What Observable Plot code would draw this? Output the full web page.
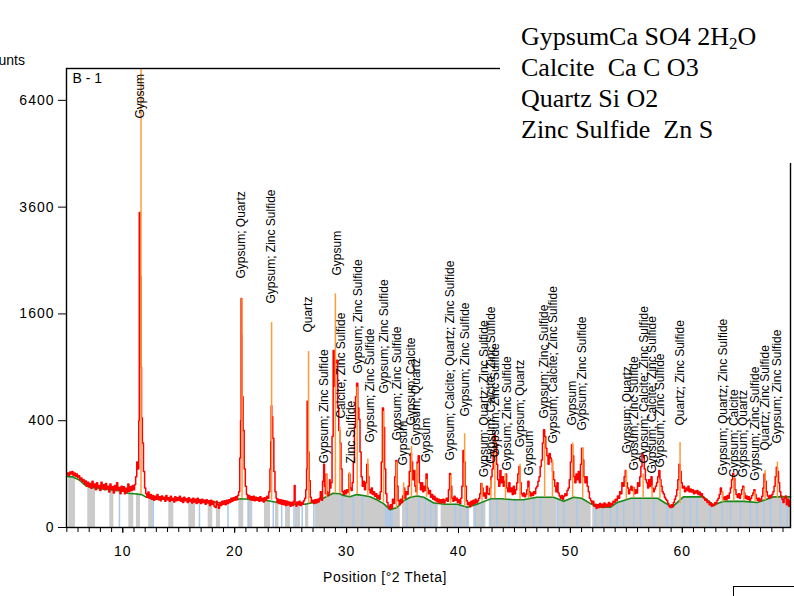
<!DOCTYPE html>
<html>
<head>
<meta charset="utf-8">
<script src="https://cdn.jsdelivr.net/npm/d3@7"></script>
<script src="https://cdn.jsdelivr.net/npm/@observablehq/plot@0.6"></script>
<style>
  body { margin: 0; background: #fff; }
  #wrap { position: relative; width: 794px; height: 596px; overflow: hidden; font-family: "Liberation Sans", Arial, sans-serif; }
  #wrap svg { position: absolute; left: 0; top: 0; }
</style>
</head>
<body>
<div id="wrap"></div>
<script>
// ---------- data ----------
const xDomain = [4.97, 69.67];
const yMax = 7390;
const yTicks = [0, 400, 1600, 3600, 6400];
const xTicks = [10, 20, 30, 40, 50, 60];
const xMinorTicks = [5,6,7,8,9,10,11,12,13,14,15,16,17,18,19,20,21,22,23,24,25,26,27,28,29,30,31,32,33,34,35,36,37,38,39,40,41,42,43,44,45,46,47,48,49,50,51,52,53,54,55,56,57,58,59,60,61,62,63,64,65,66,67,68,69];

const yAxisTitle = "Counts";
const xAxisTitle = "Position [°2 Theta]";
const sampleName = "B - 1";
const legendLines = [
  ["GypsumCa SO4 2H", "2", "O"],
  ["Calcite  Ca C O3"],
  ["Quartz Si O2"],
  ["Zinc Sulfide  Zn S"]
];

// observed pattern [°2θ, counts]
const observed = [
[5.0,98],[5.1,104],[5.2,95],[5.3,108],[5.4,100],[5.5,110],[5.6,96],[5.7,104],[5.8,92],[5.9,100],
[6.0,88],[6.1,94],[6.2,80],[6.3,86],[6.4,74],[6.5,80],[6.6,66],[6.7,76],[6.8,60],[6.9,72],
[7.0,58],[7.1,68],[7.2,54],[7.3,75],[7.4,58],[7.5,66],[7.6,50],[7.7,70],[7.8,56],[7.9,62],
[8.0,48],[8.1,72],[8.2,54],[8.3,64],[8.4,50],[8.5,68],[8.6,52],[8.7,60],[8.8,44],[8.9,66],
[9.0,52],[9.1,58],[9.2,42],[9.3,62],[9.4,48],[9.5,70],[9.6,50],[9.7,56],[9.8,40],[9.9,60],
[10.0,46],[10.1,58],[10.2,40],[10.3,54],[10.4,44],[10.5,66],[10.6,46],[10.7,58],[10.8,48],[10.9,62],
[11.0,50],[11.1,64],[11.2,90],[11.3,150],[11.4,120],[11.45,400],[11.5,3480],[11.6,2200],[11.65,900],[11.7,420],[11.8,250],[11.9,110],[12.0,55],
[12.1,40],[12.2,32],[12.3,44],[12.4,30],[12.5,38],[12.6,28],[12.7,36],[12.8,26],[12.9,34],[13.0,28],
[13.1,38],[13.2,27],[13.3,33],[13.4,25],[13.5,35],[13.6,28],[13.7,32],[13.8,24],[13.9,36],[14.0,27],
[14.1,31],[14.2,24],[14.3,34],[14.4,26],[14.5,30],[14.6,23],[14.7,33],[14.8,25],[14.9,31],[15.0,26],
[15.1,34],[15.2,24],[15.3,30],[15.4,22],[15.5,32],[15.6,25],[15.7,29],[15.8,22],[15.9,31],[16.0,24],
[16.1,28],[16.2,21],[16.3,30],[16.4,23],[16.5,28],[16.6,20],[16.7,30],[16.8,22],[16.9,27],[17.0,20],
[17.1,28],[17.2,22],[17.3,26],[17.4,19],[17.5,27],[17.6,21],[17.7,25],[17.8,17],[17.9,26],[18.0,19],
[18.1,24],[18.2,16],[18.3,14],[18.4,24],[18.5,18],[18.6,13],[18.7,22],[18.8,17],[18.9,24],[19.0,19],
[19.1,25],[19.2,18],[19.3,26],[19.4,20],[19.5,27],[19.6,22],[19.7,30],[19.8,24],[19.9,31],[20.0,26],
[20.1,33],[20.2,27],[20.3,36],[20.4,45],[20.5,170],[20.55,400],[20.6,1840],[20.65,1300],[20.7,600],[20.8,330],[20.9,120],[21.0,60],
[21.1,38],[21.2,30],[21.3,36],[21.4,27],[21.5,33],[21.6,26],[21.7,34],[21.8,25],[21.9,32],[22.0,26],
[22.1,31],[22.2,24],[22.3,33],[22.4,25],[22.5,30],[22.6,23],[22.7,31],[22.8,26],[22.9,34],[23.0,30],
[23.1,45],[23.2,120],[23.25,260],[23.28,520],[23.35,430],[23.45,280],[23.55,110],[23.65,45],
[23.75,30],[23.8,22],[23.9,28],[24.0,20],[24.1,27],[24.2,19],[24.3,26],[24.4,18],[24.5,25],[24.6,17],
[24.7,24],[24.8,18],[24.9,23],[25.0,16],[25.1,22],[25.2,17],[25.3,24],[25.35,62],[25.45,20],[25.5,16],
[25.6,23],[25.7,18],[25.8,24],[25.9,17],[26.0,22],[26.1,19],[26.2,25],[26.3,30],[26.4,50],
[26.45,120],[26.5,560],[26.55,420],[26.6,200],[26.7,77],[26.8,32],
[26.9,22],[27.0,26],[27.1,20],[27.2,27],[27.3,21],[27.4,28],[27.5,23],[27.6,30],[27.7,45],[27.8,26],
[27.9,75],[28.0,140],[28.05,60],[28.15,40],[28.2,100],[28.25,45],[28.35,36],[28.45,42],[28.5,80],[28.55,55],[28.65,70],
[28.75,290],[28.85,1100],[28.95,700],[29.05,950],[29.15,980],[29.25,500],[29.35,330],[29.45,250],[29.55,120],[29.65,45],
[29.75,38],[29.85,48],[29.95,40],[30.05,50],[30.15,44],[30.25,100],[30.35,55],[30.45,48],[30.55,70],[30.65,150],
[30.75,350],[30.85,600],[30.95,730],[31.05,500],[31.15,410],[31.25,200],[31.35,90],[31.45,60],[31.55,75],[31.65,50],
[31.75,70],[31.85,140],[31.95,90],[32.05,50],[32.15,42],[32.25,55],[32.35,38],[32.45,45],[32.55,34],[32.65,40],
[32.75,30],[32.85,36],[32.95,28],[33.05,45],[33.15,150],[33.25,500],[33.35,350],[33.45,120],[33.55,40],[33.65,22],
[33.75,16],[33.85,12],[33.95,18],[34.05,13],[34.15,28],[34.25,20],[34.35,90],[34.45,157],[34.55,60],[34.65,25],
[34.75,18],[34.85,28],[34.95,22],[35.05,35],[35.15,55],[35.25,30],[35.35,45],[35.45,38],[35.55,60],[35.65,110],
[35.75,192],[35.85,150],[35.95,80],[36.05,114],[36.15,60],[36.25,45],[36.35,150],[36.45,180],[36.55,70],[36.65,50],
[36.75,70],[36.85,45],[36.95,60],[37.05,48],[37.15,100],[37.25,55],[37.35,40],[37.45,48],[37.55,32],[37.65,38],
[37.75,28],[37.85,34],[37.95,25],[38.05,30],[38.15,23],[38.25,28],[38.35,21],[38.45,27],[38.55,22],[38.65,28],
[38.75,21],[38.85,26],[38.95,30],[39.05,24],[39.15,50],[39.25,102],[39.35,60],[39.45,30],[39.55,24],[39.65,34],
[39.75,26],[39.85,30],[39.95,22],[40.05,27],[40.15,20],[40.25,30],[40.35,60],[40.45,208],[40.55,150],[40.65,60],
[40.75,25],[40.85,18],[40.95,22],[41.05,15],[41.15,24],[41.25,18],[41.35,26],[41.45,20],[41.55,28],[41.65,22],
[41.75,25],[41.85,30],[41.95,40],[42.05,68],[42.15,55],[42.25,35],[42.35,42],[42.45,30],[42.55,60],[42.65,40],
[42.75,38],[42.85,55],[42.95,90],[43.05,120],[43.15,200],[43.25,300],[43.35,250],[43.45,140],[43.55,80],[43.65,60],
[43.75,114],[43.85,70],[43.95,90],[44.05,60],[44.15,75],[44.25,100],[44.35,55],[44.45,45],[44.55,70],[44.65,45],
[44.75,55],[44.85,38],[44.95,60],[45.05,40],[45.15,50],[45.25,70],[45.35,100],[45.45,130],[45.55,70],[45.65,40],
[45.75,35],[45.85,42],[45.95,33],[46.05,38],[46.15,50],[46.25,75],[46.35,45],[46.45,35],[46.55,42],[46.65,36],
[46.75,45],[46.85,40],[46.95,55],[47.05,60],[47.15,75],[47.25,90],[47.35,130],[47.45,160],[47.55,250],[47.65,335],
[47.75,290],[47.85,220],[47.95,180],[48.05,140],[48.15,192],[48.25,170],[48.35,150],[48.45,110],[48.55,80],[48.65,60],
[48.75,45],[48.85,70],[48.95,42],[49.05,35],[49.15,30],[49.25,36],[49.35,28],[49.45,34],[49.55,40],[49.65,36],
[49.75,48],[49.85,55],[49.95,80],[50.05,150],[50.15,240],[50.25,180],[50.35,90],[50.45,70],[50.55,100],[50.65,80],
[50.75,110],[50.85,70],[50.95,140],[51.05,220],[51.15,160],[51.25,90],[51.35,70],[51.45,90],[51.55,60],[51.65,45],
[51.75,30],[51.85,25],[51.95,20],[52.05,24],[52.15,16],[52.25,19],[52.35,13],[52.45,18],[52.55,14],[52.65,20],
[52.75,15],[52.85,19],[52.95,14],[53.05,21],[53.15,16],[53.25,19],[53.35,15],[53.45,22],[53.55,16],[53.65,20],
[53.75,18],[53.85,24],[53.95,22],[54.05,28],[54.15,25],[54.25,35],[54.35,30],[54.45,45],[54.55,40],[54.65,70],
[54.75,60],[54.85,90],[54.95,114],[55.05,70],[55.15,55],[55.25,40],[55.35,50],[55.45,60],[55.55,48],[55.65,56],
[55.75,40],[55.85,50],[55.95,42],[56.05,70],[56.15,60],[56.25,90],[56.35,130],[56.45,190],[56.55,180],[56.65,120],
[56.75,80],[56.85,70],[56.95,55],[57.05,80],[57.15,60],[57.25,90],[57.35,55],[57.45,45],[57.55,52],[57.65,60],
[57.75,70],[57.85,90],[57.95,114],[58.05,80],[58.15,60],[58.25,45],[58.35,40],[58.45,32],[58.55,28],[58.65,25],
[58.75,20],[58.85,16],[58.95,14],[59.05,18],[59.15,15],[59.25,22],[59.35,28],[59.45,35],[59.55,50],[59.65,80],
[59.75,140],[59.85,110],[59.95,70],[60.05,55],[60.15,60],[60.25,45],[60.35,55],[60.45,48],[60.55,60],[60.65,45],
[60.75,52],[60.85,44],[60.95,50],[61.05,40],[61.15,47],[61.25,42],[61.35,48],[61.45,38],[61.55,44],[61.65,36],
[61.75,40],[61.85,33],[61.95,30],[62.05,26],[62.15,28],[62.25,22],[62.35,24],[62.45,18],[62.55,21],[62.65,16],
[62.75,19],[62.85,17],[62.95,22],[63.05,20],[63.15,26],[63.25,30],[63.35,38],[63.45,55],[63.55,45],[63.65,32],
[63.75,28],[63.85,33],[63.95,27],[64.05,36],[64.15,30],[64.25,42],[64.35,55],[64.45,80],[64.55,102],[64.65,85],
[64.75,50],[64.85,38],[64.95,32],[65.05,40],[65.15,30],[65.25,38],[65.35,50],[65.45,60],[65.55,42],[65.65,30],
[65.75,35],[65.85,28],[65.95,33],[66.05,26],[66.15,30],[66.25,36],[66.35,42],[66.45,50],[66.55,38],[66.65,30],
[66.75,26],[66.85,30],[66.95,24],[67.05,28],[67.15,34],[67.25,55],[67.35,100],[67.45,75],[67.55,45],[67.65,35],
[67.75,30],[67.85,36],[67.95,32],[68.05,38],[68.15,45],[68.25,60],[68.35,90],[68.45,127],[68.55,110],[68.65,70],
[68.75,45],[68.85,35],[68.95,28],[69.05,22],[69.15,30],[69.25,35],[69.35,18],[69.45,28],[69.55,16],[69.65,25]
];

// fitted background [°2θ, counts]
const background = [
[4.97,91],[5.5,90],[6.07,80],[6.66,62],[7.1,57],[8.15,52],[9.2,49],[10.1,46],[10.4,41],[11.0,40],
[11.7,38],[12.1,32],[13.0,29],[14.5,28],[16.0,27],[17.3,25],[18.4,22],[18.9,21],[19.6,25],[20.5,29],
[21.3,28],[22.0,27],[23.0,25],[23.8,22],[25.3,19],[26.3,19],[27.2,23],[28.0,31],[28.8,41],[29.4,40],
[29.7,36],[30.3,33],[30.9,38],[31.5,36],[32.1,33],[32.7,27],[33.3,20],[33.9,11],[34.5,14],[35.1,25],
[35.7,32],[36.3,35],[36.9,32],[37.8,21],[38.8,19],[39.9,19],[40.8,14.5],[41.8,20],[42.9,29],[43.8,29],
[44.9,27],[45.8,27],[47.0,32],[48.5,32],[49.4,24],[50.3,32],[51.0,30],[51.8,20],[52.4,14.5],[53.6,14.5],
[54.2,22],[55.4,30],[57.8,30],[58.4,22],[59.1,14.5],[60.1,33],[61.9,33],[62.8,17.7],[63.7,24],[65.5,24],
[66.7,22],[68.2,33],[69.67,33]
];

// calculated peak sticks [°2θ, base, top]
const sticks = [
[11.63,38,7390],[20.66,29,1840],[23.3,26,1474],[26.6,20,1086],[28.2,31,101],[29.0,40,1915],[29.4,40,353],
[30.25,33,107],[30.95,38,690],[31.9,34,165],[33.3,21,472],[34.45,13,150],[35.1,25,70],[35.8,32,230],
[36.3,35,140],[37.15,32,80],[39.3,19,95],[40.55,15,308],[42.1,24,68],[42.9,29,77],[43.25,29,265],
[44.2,28,100],[45.5,27,140],[46.25,29,55],[47.7,32,280],[48.4,32,160],[50.2,31,250],[51.1,30,224],
[55.0,27,114],[55.65,30,56],[56.5,30,100],[57.3,30,60],[58.0,29,80],[59.8,20,253],[63.6,22,45],
[64.6,24,95],[65.5,24,55],[66.5,22,45],[67.4,25,114],[68.5,30,150]
];

// reference-pattern bars [from, to, height]
const grayBars = [
[5.17,5.77,90],[6.87,7.56,58],[8.84,9.2,50],[10.54,10.98,42],[11.22,11.58,39],[12.32,12.72,31],
[14.11,14.56,29],[15.9,16.5,27],[17.63,18.04,25],[18.37,18.73,22],[20.37,20.81,28],[21.17,21.62,28],
[22.66,23.2,26],[23.65,23.95,23],[24.54,24.99,20],[25.43,25.88,19],[26.33,26.62,20]
];
const grayGaps = [[34.8,35.0],[38.2,38.45],[41.0,41.35],[42.45,42.75],[48.78,48.88],[51.85,52.0]];

// reference sticks [°2θ, height]
const blueSticks = [
[9.7,46],[12.72,31],[16.85,27],[19.4,25],[21.25,28],[23.45,25],[24.2,22],[25.3,19],[26.03,20],[27.07,23],
[29.6,38],[30.6,33],[31.4,36],[33.5,18],[33.7,13],[33.9,11],[34.05,11],[35.42,30],[36.45,36],[37.05,30],
[37.5,25],[37.94,21],[39.73,19],[40.18,18],[40.77,15],[41.52,18],[42.11,24],[42.86,28],[43.45,29],[44.5,28],
[45.09,27],[45.84,27],[46.73,30],[47.33,32],[48.82,28],[49.41,24],[50.6,31],[52.24,16],[52.84,14],[53.58,15],
[54.18,21],[54.77,25],[55.67,30],[56.27,30],[57.46,30],[58.65,20],[59.09,15],[60.14,30],[60.73,33],[61.33,33],
[62.52,22],[63.56,20],[64.31,24],[65.2,24],[66.09,24],[66.69,22],[67.29,24],[67.88,28],[68.78,32],[69.37,33]
];

// phase labels [°2θ, counts at text start, text]
const peakLabels = [
[11.58,5866,"Gypsum"],
[20.62,2174,"Gypsum; Quartz"],
[23.3,1760,"Gypsum; Zinc Sulfide"],
[26.55,1333,"Quartz"],
[27.99,144,"Gypsum; Zinc Sulfide"],
[29.12,2227,"Gypsum"],
[29.52,416,"Calcite; Zinc Sulfide"],
[30.41,144,"Zinc Sulfide"],
[31.0,832,"Gypsum; Zinc Sulfide"],
[32.14,253,"Gypsum; Zinc Sulfide"],
[33.35,630,"Gypsum; Zinc Sulfide"],
[34.52,265,"Gypsum; Zinc Sulfide"],
[35.05,135,"Gypsum"],
[35.75,365,"Gypsum; Calcite"],
[36.25,236,"Gypsum; Quartz"],
[37.14,148,"Gypsum"],
[39.28,157,"Gypsum; Calcite; Quartz; Zinc Sulfide"],
[40.63,432,"Gypsum; Zinc Sulfide"],
[42.27,89,"Gypsum; Quartz; Zinc Sulfide"],
[42.92,142,"Gypsum; Calcite; Zinc Sulfide"],
[43.3,173,"Gypsum; Zinc Sulfide"],
[44.35,114,"Gypsum; Zinc Sulfide"],
[45.54,226,"Gypsum; Quartz"],
[46.28,95,"Gypsum"],
[47.62,416,"Gypsum; Zinc Sulfide"],
[48.43,247,"Gypsum; Calcite; Zinc Sulfide"],
[50.17,365,"Gypsum"],
[51.06,330,"Gypsum; Zinc Sulfide"],
[55.1,192,"Gypsum; Quartz"],
[55.67,114,"Gypsum; Zinc Sulfide"],
[56.56,144,"Gypsum; Calcite; Zinc Sulfide"],
[57.31,102,"Gypsum; Calcite; Zinc Sulfide"],
[58.05,126,"Gypsum; Zinc Sulfide"],
[59.78,365,"Quartz; Zinc Sulfide"],
[63.66,95,"Gypsum; Quartz; Zinc Sulfide"],
[64.6,88,"Gypsum; Calcite"],
[65.44,88,"Gypsum; Quartz"],
[66.54,77,"Gypsum; Zinc Sulfide"],
[67.43,208,"Quartz; Zinc Sulfide"],
[68.48,247,"Gypsum; Zinc Sulfide"]
];

// ---------- chart ----------
const bgTail = background.filter(d => d[0] >= 27.2);
const X = d => d[0], Y = d => d[1];

const chart = Plot.plot({
  width: 794, height: 596,
  marginLeft: 66, marginRight: 4, marginTop: 68, marginBottom: 69,
  style: { fontFamily: '"Liberation Sans", Arial, sans-serif', background: "transparent", color: "black" },
  x: { domain: xDomain },
  y: { type: "sqrt", domain: [0, yMax] },
  marks: [
    Plot.areaY(bgTail, { x: X, y: Y, fill: "#cbcbcb" }),
    Plot.rectY(grayBars, { x1: d => d[0], x2: d => d[1], y: d => d[2], fill: "#cbcbcb" }),
    Plot.rectY(grayGaps, { x1: d => d[0], x2: d => d[1], y: 45, fill: "white" }),
    Plot.ruleX(blueSticks, { x: X, y1: 0, y2: Y, stroke: "#a8c8ee", strokeWidth: 1.5 }),
    Plot.line(background, { x: X, y: Y, stroke: "#168a16", strokeWidth: 1.6 }),
    Plot.line(observed, { x: X, y: Y, curve: "step", stroke: "#ff0000", strokeWidth: 1.5, clip: true }),
    Plot.ruleX(sticks, { x: d => d[0], y1: d => d[1], y2: d => d[2], stroke: "#ff9a3a", strokeWidth: 1.5, clip: true }),
    Plot.text(peakLabels, { x: d => d[0], y: d => d[1], text: d => d[2], rotate: -90, textAnchor: "start", fontSize: 12, fill: "black" }),
    Plot.text([sampleName], { text: d => d, frameAnchor: "top-left", dx: 6, dy: 5, textAnchor: "start", lineAnchor: "top", fontSize: 14, fill: "black" }),
    Plot.frame({ stroke: "black", strokeWidth: 1.4 }),
    Plot.axisY({ ticks: yTicks, tickSize: 8, tickPadding: 4, tickFormat: d => String(d), fontSize: 14, label: null }),
    Plot.axisX({ ticks: xMinorTicks, tickSize: 5, tickFormat: () => "", label: null }),
    Plot.axisX({ ticks: xTicks, tickSize: 6, tickPadding: 13, fontSize: 14, label: null })
  ]
});

d3.select(chart).selectAll('g[aria-label="x-axis tick label"], g[aria-label="y-axis tick label"]').style("letter-spacing", "1px");

const wrap = document.getElementById("wrap");
wrap.appendChild(chart);

// overlay: legend box, axis titles, corner box
const over = d3.create("svg").attr("width", 794).attr("height", 596).style("pointer-events", "none");
over.append("rect").attr("x", 500).attr("y", 0).attr("width", 294).attr("height", 163).attr("fill", "white");
const lg = over.append("g").attr("font-family", '"Liberation Serif", "Times New Roman", serif').attr("font-size", 26).attr("fill", "black");
const baselines = [45, 76, 107, 138];
legendLines.forEach((parts, i) => {
  const t = lg.append("text").attr("x", 521).attr("y", baselines[i]).style("white-space", "pre");
  if (parts.length === 1) {
    t.text(parts[0]);
  } else {
    t.append("tspan").text(parts[0]);
    t.append("tspan").attr("font-size", 17).attr("dy", 4).text(parts[1]);
    t.append("tspan").attr("dy", -4).text(parts[2]);
  }
});
over.append("text").attr("x", 25).attr("y", 65).attr("text-anchor", "end").attr("font-size", 14)
  .attr("font-family", '"Liberation Sans", Arial, sans-serif').text(yAxisTitle);
over.append("text").attr("x", 385).attr("y", 582).attr("text-anchor", "middle").attr("font-size", 14)
  .attr("font-family", '"Liberation Sans", Arial, sans-serif').style("letter-spacing", "0.5px").text(xAxisTitle);
over.append("rect").attr("x", 733.5).attr("y", 586.5).attr("width", 100).attr("height", 50).attr("fill", "white").attr("stroke", "black");
wrap.appendChild(over.node());
</script>
</body>
</html>
